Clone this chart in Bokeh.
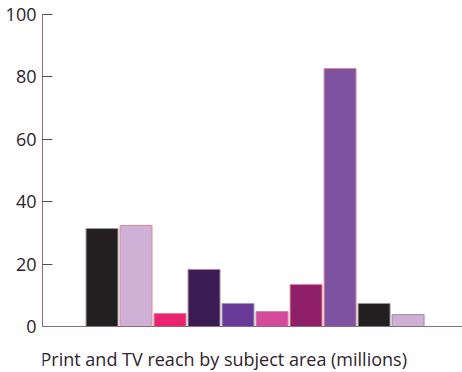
from bokeh.plotting import figure
from bokeh.models import FixedTicker, ColumnDataSource, Label, Span
from bokeh.embed import file_html
from bokeh.resources import INLINE

positions = [1, 2, 3, 4, 5, 6, 7, 8, 9, 10]
values = [31.4, 32.4, 4.2, 18.3, 7.4, 4.8, 13.5, 82.7, 7.4, 3.8]
colors = ["#231f20", "#cdb0d4", "#e8246e", "#3b1c52", "#663a96",
          "#d64a9c", "#8e1f68", "#7d52a0", "#231f20", "#cdb0d4"]
outlines = ["#9a9a9a", "#e0889a", "#c98aa0", "#b08aa8", "#a0a0b0",
            "#c98aa0", "#e0889a", "#e0889a", "#9a9a9a", "#9a8aa8"]
y_ticks = [0, 20, 40, 60, 80, 100]
title_text = "Print and TV reach by subject area (millions)"

src = ColumnDataSource(dict(x=positions, top=values, fill=colors, line=outlines))

# frame extends to bottom of canvas; value axis runs 0..100 over 312 px
p = figure(width=462, height=372, output_backend="svg", toolbar_location=None,
           x_range=(-0.75, 11.6), y_range=(-14.74, 100), x_axis_location=None,
           min_border_left=42, min_border_right=0, min_border_top=14, min_border_bottom=0)
p.vbar(x="x", top="top", width=0.94, bottom=0, source=src,
       fill_color="fill", line_color="line", line_width=1)

p.xgrid.visible = False
p.ygrid.visible = False
p.outline_line_color = None
p.background_fill_color = "white"
p.border_fill_color = "white"

ya = p.yaxis[0]
ya.ticker = FixedTicker(ticks=y_ticks)
ya.bounds = (0, 100)
ya.minor_tick_line_color = None
ya.major_tick_in = 10
ya.major_tick_out = 0
ya.major_tick_line_color = "#5a4a58"
ya.axis_line_color = "#8d6b86"
ya.major_label_text_font = "Open Sans"
ya.major_label_text_font_size = "18px"
ya.major_label_text_color = "#2e232e"
ya.major_label_standoff = 6

baseline = Span(location=0, dimension="width", line_color="#8d6b86", line_width=1)
p.add_layout(baseline)

lbl = Label(x=-2, y=14, x_units="screen", y_units="screen", text=title_text,
            text_font="Open Sans", text_font_size="18px", text_color="#2e232e",
            text_align="left", text_baseline="middle")
p.add_layout(lbl)

open("out.html", "w").write(file_html(p, INLINE))
